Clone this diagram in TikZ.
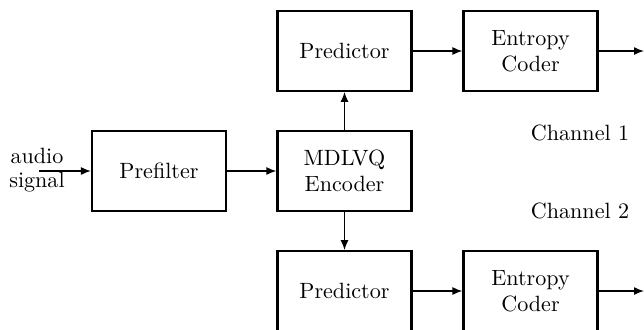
\documentclass[tikz,border=0pt]{standalone}
\usetikzlibrary{arrows.meta}
\begin{document}
\begin{tikzpicture}[x=0.4525pt,y=-0.4525pt,
  blk/.style={draw,line width=1pt,minimum width=60.6pt,minimum height=36pt,align=center,inner sep=0pt},
  conn/.style={line width=0.65pt,-{Latex[length=4.5pt,width=3.6pt]}},
  lbl/.style={align=center,inner sep=0pt}]
\useasboundingbox (0,0) rectangle (644,329);
\node[blk] (pre) at (159,171) {Prefilter};
\node[blk] (enc) at (344.5,171) {MDLVQ\\Encoder};
\node[blk] (p1) at (344.5,51) {Predictor};
\node[blk] (e1) at (530.5,51) {Entropy\\Coder};
\node[blk] (p2) at (344.5,291) {Predictor};
\node[blk] (e2) at (530.5,291) {Entropy\\Coder};
\node[lbl] (in) at (37,170) {audio\\[-1.5pt]signal};
\coordinate (s) at (39,171);
\node[lbl] (c1) at (580,133) {Channel 1};
\node[lbl] (c2) at (580,211) {Channel 2};
\coordinate (o1) at (644,51);
\coordinate (o2) at (644,291);
\draw[conn] (s) -- (pre);
\draw[conn] (pre) -- (enc);
\draw[conn] (enc) -- (p1);
\draw[conn] (enc) -- (p2);
\draw[conn] (p1) -- (e1);
\draw[conn] (p2) -- (e2);
\draw[conn] (e1) -- (o1);
\draw[conn] (e2) -- (o2);
\end{tikzpicture}
\end{document}
